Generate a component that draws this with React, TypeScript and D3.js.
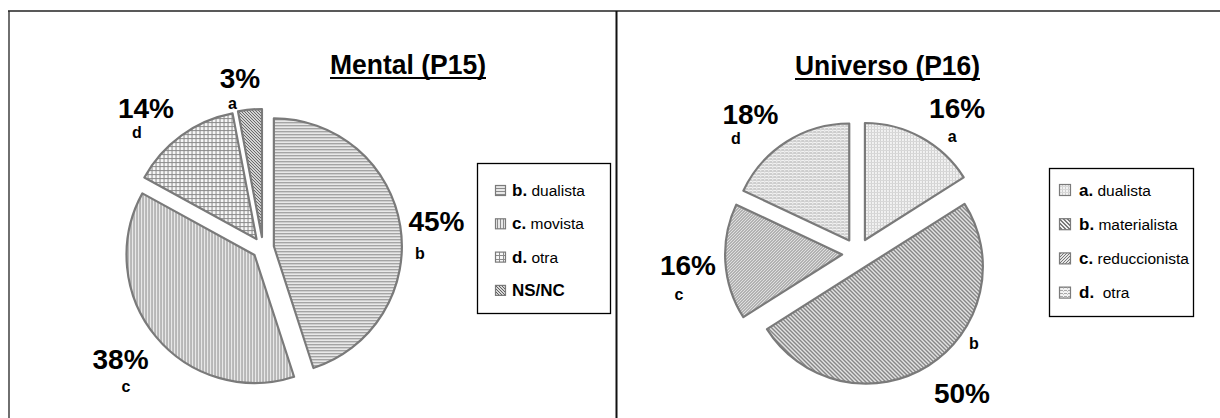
import React from "react";
import * as d3 from "d3";

// ---- data ----
const mentalCategories = ["b", "c", "d", "a"];
const mentalValues = [45, 38, 14, 3];
const mentalLegendKeys = ["b.", "c.", "d.", "NS/NC"];
const mentalLegendNames = [" dualista", " movista", " otra", ""];
const mentalTitle = "Mental (P15)";

const universoCategories = ["a", "b", "c", "d"];
const universoValues = [16, 50, 16, 18];
const universoLegendKeys = ["a.", "b.", "c.", "d."];
const universoLegendNames = [" dualista", " materialista", " reduccionista", "  otra"];
const universoTitle = "Universo (P16)";

// ---- layout / style ----
const FONT = "'Liberation Sans', Arial, Helvetica, sans-serif";

type PanelCfg = {
  categories: string[];
  values: number[];
  legendKeys: string[];
  legendNames: string[];
  title: string;
  cx: number;
  cy: number;
  r: number;
  explode: number;
  titleX: number;
  titleY: number;
  titleW: number;
  patterns: string[];
  labelAngleDelta: number[];
  labelRadius: number[];
  letterOffset: [number, number][];
  legend: { x: number; y: number; w: number; h: number; row0: number; step: number; swX: number; sw: number; txtX: number };
};

const panels: PanelCfg[] = [
  {
    categories: mentalCategories,
    values: mentalValues,
    legendKeys: mentalLegendKeys,
    legendNames: mentalLegendNames,
    title: mentalTitle,
    cx: 263,
    cy: 248,
    r: 128,
    explode: 11,
    titleX: 408,
    titleY: 74,
    titleW: 156,
    patterns: ["pHoriz", "pVert", "pGrid", "pDiagDark"],
    labelAngleDelta: [0, 1.7, -3.8, -2.3],
    labelRadius: [175.6, 180.5, 182.8, 171.5],
    letterOffset: [[-16.5, 28], [5.4, 23], [-9, 20], [-7.5, 21]],
    legend: { x: 477.5, y: 163.5, w: 133, h: 150, row0: 190, step: 33.3, swX: 495, sw: 10, txtX: 512 },
  },
  {
    categories: universoCategories,
    values: universoValues,
    legendKeys: universoLegendKeys,
    legendNames: universoLegendNames,
    title: universoTitle,
    cx: 857.5,
    cy: 253.5,
    r: 117,
    explode: 15.4,
    titleX: 887.5,
    titleY: 75,
    titleW: 185,
    patterns: ["pDots", "pStair", "pDiag2", "pDash"],
    labelAngleDelta: [5.6, -4.4, -0.3, -5.1],
    labelRadius: [176.3, 174.3, 169.9, 175.8],
    letterOffset: [[-5, 24], [12, -54], [-9, 25], [-14.5, 20]],
    legend: { x: 1049.5, y: 168.5, w: 144, h: 148, row0: 189.5, step: 34.2, swX: 1059, sw: 11, txtX: 1079 },
  },
];

function Panel({ cfg }: { cfg: PanelCfg }) {
  const pie = d3.pie<number>().sort(null).value((d) => d).startAngle(0).endAngle(2 * Math.PI);
  const arcs = pie(cfg.values);
  const arcGen = d3.arc<d3.PieArcDatum<number>>().innerRadius(0).outerRadius(cfg.r);
  const L = cfg.legend;
  return (
    <g>
      <text
        x={cfg.titleX}
        y={cfg.titleY}
        textAnchor="middle"
        fontFamily={FONT}
        fontWeight="bold"
        fontSize={28}
        textLength={cfg.titleW}
        lengthAdjust="spacingAndGlyphs"
        fill="#000"
      >
        {cfg.title}
      </text>
      <line
        x1={cfg.titleX - cfg.titleW / 2}
        x2={cfg.titleX + cfg.titleW / 2}
        y1={cfg.titleY + 4}
        y2={cfg.titleY + 4}
        stroke="#000"
        strokeWidth={2.2}
      />
      {arcs.map((a, i) => {
        const mid = (a.startAngle + a.endAngle) / 2;
        const tx = cfg.cx + cfg.explode * Math.sin(mid);
        const ty = cfg.cy - cfg.explode * Math.cos(mid);
        return (
          <path
            key={"s" + i}
            d={arcGen(a) || ""}
            transform={`translate(${tx},${ty})`}
            fill={`url(#${cfg.patterns[i]})`}
            stroke="#7a7a7a"
            strokeWidth={2.2}
            strokeLinejoin="round"
          />
        );
      })}
      {arcs.map((a, i) => {
        const mid = (a.startAngle + a.endAngle) / 2 + (cfg.labelAngleDelta[i] * Math.PI) / 180;
        const lx = cfg.cx + cfg.labelRadius[i] * Math.sin(mid);
        const ly = cfg.cy - cfg.labelRadius[i] * Math.cos(mid);
        const base = ly + 10;
        const [dx, dy] = cfg.letterOffset[i];
        return (
          <g key={"l" + i} fontFamily={FONT} fontWeight="bold" fill="#000" textAnchor="middle">
            <text x={lx} y={base} fontSize={28}>
              {cfg.values[i] + "%"}
            </text>
            <text x={lx + dx} y={base + dy} fontSize={16}>
              {cfg.categories[i]}
            </text>
          </g>
        );
      })}
      <rect x={L.x} y={L.y} width={L.w} height={L.h} fill="#fff" stroke="#000" strokeWidth={1.3} />
      {cfg.legendKeys.map((k, i) => {
        const yc = L.row0 + i * L.step;
        return (
          <g key={"g" + i}>
            <rect
              x={L.swX + 0.5}
              y={yc - L.sw / 2 + 0.5}
              width={L.sw}
              height={L.sw}
              fill={`url(#${cfg.patterns[i]})`}
              stroke="#7a7a7a"
              strokeWidth={1.2}
            />
            <text x={L.txtX} y={yc + 6} fontFamily={FONT} fill="#000" style={{ whiteSpace: "pre" }}>
              <tspan fontWeight="bold" fontSize={17}>{k}</tspan>
              <tspan fontSize={15.5}>{cfg.legendNames[i]}</tspan>
            </text>
          </g>
        );
      })}
    </g>
  );
}

export default function App() {
  return (
    <div style={{ position: "absolute", left: 0, top: 0 }}>
      <svg width={1220} height={418} style={{ display: "block", background: "#fff" }}>
        <defs>
          <pattern id="pHoriz" width={3} height={3} patternUnits="userSpaceOnUse">
            <rect width={3} height={3} fill="#e8e8e8" />
            <rect y={2} width={3} height={1} fill="#8a8a8a" />
          </pattern>
          <pattern id="pVert" width={3} height={3} patternUnits="userSpaceOnUse">
            <rect width={3} height={3} fill="#e8e8e8" />
            <rect x={2} width={1} height={3} fill="#8a8a8a" />
          </pattern>
          <pattern id="pGrid" width={4} height={4} patternUnits="userSpaceOnUse">
            <rect width={4} height={4} fill="#f6f6f6" />
            <rect y={3} width={4} height={1} fill="#8a8a8a" />
            <rect x={3} width={1} height={4} fill="#8a8a8a" />
          </pattern>
          <pattern id="pDiagDark" width={3} height={3} patternUnits="userSpaceOnUse">
            <rect width={3} height={3} fill="#d8d8d8" />
            <rect x={0} y={0} width={1} height={1} fill="#606060" />
            <rect x={1} y={1} width={1} height={1} fill="#606060" />
            <rect x={2} y={2} width={1} height={1} fill="#606060" />
          </pattern>
          <pattern id="pDots" width={3} height={3} patternUnits="userSpaceOnUse">
            <rect width={3} height={3} fill="#f2f2f2" />
            <rect x={0} y={0} width={1} height={3} fill="#cfcfcf" />
            <rect x={0} y={0} width={3} height={1} fill="#d8d8d8" />
          </pattern>
          <pattern id="pStair" width={4} height={4} patternUnits="userSpaceOnUse">
            <rect width={4} height={4} fill="#f0f0f0" />
            <rect x={0} y={0} width={2} height={1} fill="#7a7a7a" />
            <rect x={1} y={1} width={2} height={1} fill="#7a7a7a" />
            <rect x={2} y={2} width={2} height={1} fill="#7a7a7a" />
            <rect x={3} y={3} width={1} height={1} fill="#7a7a7a" />
            <rect x={0} y={3} width={1} height={1} fill="#7a7a7a" />
          </pattern>
          <pattern id="pDiag2" width={3} height={3} patternUnits="userSpaceOnUse">
            <rect width={3} height={3} fill="#e6e6e6" />
            <rect x={2} y={0} width={1} height={1} fill="#777" />
            <rect x={1} y={1} width={1} height={1} fill="#777" />
            <rect x={0} y={2} width={1} height={1} fill="#777" />
          </pattern>
          <pattern id="pDash" width={4} height={3} patternUnits="userSpaceOnUse">
            <rect width={4} height={3} fill="#f2f2f2" />
            <rect x={0} y={2} width={3} height={1} fill="#a8a8a8" />
            <rect x={3} y={0} width={1} height={1} fill="#c4c4c4" />
          </pattern>
        </defs>
        {/* frame */}
        <line x1={8} y1={11} x2={1220} y2={11} stroke="#222" strokeWidth={1.3} />
        <line x1={9} y1={11} x2={9} y2={418} stroke="#222" strokeWidth={1.3} />
        <line x1={616.5} y1={11} x2={616.5} y2={418} stroke="#111" strokeWidth={2} />
        {panels.map((p, i) => (
          <Panel key={i} cfg={p} />
        ))}
      </svg>
    </div>
  );
}
